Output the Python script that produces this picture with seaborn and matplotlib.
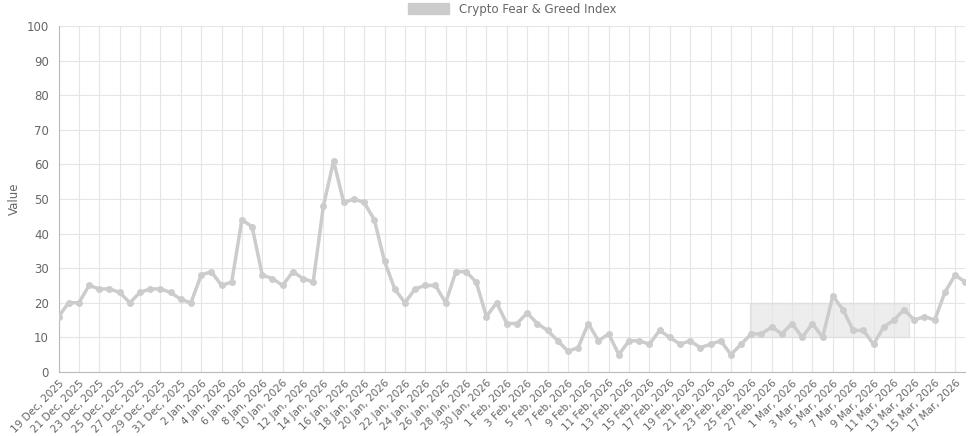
import matplotlib.pyplot as plt
import pandas as pd
import seaborn as sns
import numpy as np
from matplotlib.patches import Rectangle, Patch

dates = pd.date_range("2025-12-19", "2026-03-18", freq="D")
values = [16, 20, 20, 25, 24, 24, 23, 20, 23, 24, 24, 23, 21,
          20, 28, 29, 25, 26, 44, 42, 28, 27, 25, 29, 27, 26, 48, 61, 49, 50, 49, 44, 32, 24, 20,
          24, 25, 25, 20, 29, 29, 26, 16, 20,
          14, 14, 17, 14, 12, 9, 6, 7, 14, 9, 11, 5, 9, 9, 8, 12, 10, 8, 9, 7, 8, 9, 5, 8, 11, 11, 13, 11,
          14, 10, 14, 10, 22, 18, 12, 12, 8, 13, 15, 18, 15, 16, 15, 23, 28, 26]
labels = [f"{d.day} {d.strftime('%b')}, {d.year}" for d in dates]
box_start, box_end, box_low, box_high = 67.9, 83.5, 10, 20

df = pd.DataFrame({"idx": np.arange(len(values)), "value": values})

sns.set_style("white")
fig, ax = plt.subplots(figsize=(9.75, 4.36), dpi=100)
fig.subplots_adjust(left=0.06, right=0.99, top=0.94, bottom=0.147)

ax.add_patch(Rectangle((box_start, box_low), box_end - box_start, box_high - box_low,
                       facecolor="#e6e6e6", edgecolor="#dddddd", alpha=0.7, zorder=1))
sns.lineplot(data=df, x="idx", y="value", color="#cccccc", linewidth=2.5, marker="o",
             markersize=5, markeredgewidth=0, ax=ax, zorder=3, legend=False)

ax.set_xlim(0, len(values) - 1)
ax.set_ylim(0, 100)
ax.set_yticks(range(0, 101, 10))
ax.set_xticks(range(0, len(values), 2))
ax.set_xticklabels(labels[::2], rotation=45, ha="right", rotation_mode="anchor", fontsize=7.5, color="#666666")
ax.tick_params(axis="y", labelsize=8.5, labelcolor="#666666")
ax.tick_params(axis="x", pad=1)
ax.grid(True, which="major", color="#e5e5e5", linewidth=0.8)
ax.set_xlabel("")
ax.set_ylabel("Value", fontsize=8.5, color="#666666")
for s in ["top", "right"]:
    ax.spines[s].set_visible(False)
for s in ["left", "bottom"]:
    ax.spines[s].set_color("#bbbbbb")

leg = ax.legend(handles=[Patch(facecolor="#cccccc", edgecolor="#cccccc", label="Crypto Fear & Greed Index")],
                loc="lower center", bbox_to_anchor=(0.5, 1.0), frameon=False, fontsize=8.5,
                handlelength=3.5, handleheight=1.1)
for t in leg.get_texts():
    t.set_color("#666666")

plt.savefig("out.png")
